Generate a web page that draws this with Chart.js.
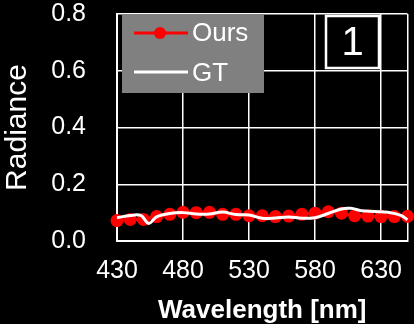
<!DOCTYPE html>
<html>
<head>
<meta charset="utf-8">
<script src="https://cdn.jsdelivr.net/npm/chart.js@4/dist/chart.umd.min.js"></script>
<style>
  html, body { margin: 0; padding: 0; background: #000; }
  #wrap { width: 414px; height: 324px; }
</style>
</head>
<body>
<div id="wrap"><canvas id="canvas" width="414" height="324"></canvas></div>
<script>
// data
const wavelengths = [430, 440, 450, 460, 470, 480, 490, 500, 510, 520, 530, 540,
                     550, 560, 570, 580, 590, 600, 610, 620, 630, 640, 650];
const oursValues = [0.072, 0.076, 0.076, 0.086, 0.094, 0.101, 0.100, 0.101, 0.094, 0.094, 0.089, 0.089,
                    0.086, 0.088, 0.094, 0.098, 0.103, 0.098, 0.089, 0.088, 0.086, 0.086, 0.087];
const gtWavelengths = [430, 440, 448, 454, 460, 470, 480, 490, 500, 510, 520, 530, 540,
                       550, 560, 570, 580, 590, 600, 607, 615, 625, 635, 645, 650];
const gtValues = [0.082, 0.090, 0.090, 0.062, 0.085, 0.097, 0.100, 0.095, 0.095, 0.102, 0.093, 0.092, 0.080,
                  0.081, 0.085, 0.080, 0.082, 0.097, 0.113, 0.115, 0.107, 0.104, 0.101, 0.090, 0.075];
const xTicks = [430, 480, 530, 580, 630, 650];
const yTicks = [0, 0.2, 0.4, 0.6, 0.8];
const seriesNames = ["Ours", "GT"];
const panelLabel = "1";

const FONT = "'Liberation Sans', Arial, sans-serif";

const blackBg = {
    id: "blackBg",
    beforeDraw(chart) {
        const ctx = chart.ctx;
        ctx.save();
        ctx.fillStyle = "#000";
        ctx.fillRect(0, 0, chart.width, chart.height);
        ctx.restore();
    }
};

// gray legend box and the numbered panel box, drawn over the plot
const overlay = {
    id: "overlay",
    afterDraw(chart) {
        const ctx = chart.ctx;
        const a = chart.chartArea;
        ctx.save();
        ctx.fillStyle = "#808080";
        ctx.fillRect(a.left + 5, a.top, 142, 79);

        ctx.lineCap = "butt";
        ctx.strokeStyle = "#ff0000";
        ctx.lineWidth = 3;
        ctx.beginPath();
        ctx.moveTo(a.left + 17, a.top + 19);
        ctx.lineTo(a.left + 71, a.top + 19);
        ctx.stroke();
        ctx.fillStyle = "#ff0000";
        ctx.beginPath();
        ctx.arc(a.left + 43, a.top + 19, 6, 0, Math.PI * 2);
        ctx.fill();

        ctx.strokeStyle = "#fff";
        ctx.beginPath();
        ctx.moveTo(a.left + 17, a.top + 58);
        ctx.lineTo(a.left + 71, a.top + 58);
        ctx.stroke();

        ctx.fillStyle = "#fff";
        ctx.font = "26px " + FONT;
        ctx.textBaseline = "middle";
        ctx.textAlign = "left";
        ctx.fillText(seriesNames[0], a.left + 75, a.top + 20);
        ctx.fillText(seriesNames[1], a.left + 75, a.top + 60);

        // panel number box
        ctx.fillStyle = "#000";
        ctx.fillRect(326, 16, 53, 52);
        ctx.strokeStyle = "#fff";
        ctx.lineWidth = 2.5;
        ctx.strokeRect(326, 16, 53, 52);
        ctx.fillStyle = "#fff";
        ctx.font = "40px " + FONT;
        ctx.textAlign = "center";
        ctx.fillText(panelLabel, 352.5, 44);
        ctx.restore();
    }
};

new Chart(document.getElementById("canvas"), {
    type: "line",
    data: {
        datasets: [
            {
                label: seriesNames[1],
                data: gtWavelengths.map((w, i) => ({ x: w, y: gtValues[i] })),
                borderColor: "#fff",
                borderWidth: 3,
                pointRadius: 0,
                tension: 0.35,
                order: 0,
                clip: false,
            },
            {
                label: seriesNames[0],
                data: wavelengths.map((w, i) => ({ x: w, y: oursValues[i] })),
                borderColor: "#ff0000",
                backgroundColor: "#ff0000",
                borderWidth: 3,
                pointRadius: 6.5,
                pointBorderWidth: 0,
                pointBackgroundColor: "#ff0000",
                tension: 0.3,
                order: 1,
                clip: false,
            },
        ],
    },
    options: {
        responsive: false,
        animation: false,
        layout: { padding: { top: 14, right: 4, left: 0, bottom: 0 } },
        plugins: { legend: { display: false }, tooltip: { enabled: false } },
        scales: {
            x: {
                type: "linear",
                min: 430,
                max: 650,
                afterBuildTicks: (scale) => { scale.ticks = xTicks.map(v => ({ value: v })); },
                afterFit: (scale) => {
                    scale.height = 83;
                    scale.paddingLeft = 0;
                    scale.paddingRight = 0;
                },
                grid: { color: "#fff", lineWidth: 1.5, drawTicks: false },
                border: { color: "#fff", width: 2 },
                ticks: {
                    color: "#fff",
                    font: { family: FONT, size: 25 },
                    padding: 15,
                    maxRotation: 0,
                    callback: (v) => (v === 650 ? "" : v),
                },
                title: {
                    display: true,
                    text: "Wavelength [nm]",
                    color: "#fff",
                    font: { family: FONT, size: 26, weight: "bold", lineHeight: 1 },
                    padding: { top: 0, bottom: 0 },
                },
            },
            y: {
                min: 0,
                max: 0.8,
                afterBuildTicks: (scale) => { scale.ticks = yTicks.map(v => ({ value: v })); },
                afterFit: (scale) => {
                    scale.width = 117;
                    scale.paddingTop = 0;
                    scale.paddingBottom = 0;
                },
                grid: { color: "#fff", lineWidth: 1.5, drawTicks: false },
                border: { color: "#fff", width: 2 },
                ticks: {
                    color: "#fff",
                    font: { family: FONT, size: 25 },
                    padding: 31,
                    callback: (v) => v.toFixed(1),
                },
                title: {
                    display: true,
                    text: "Radiance",
                    color: "#fff",
                    font: { family: FONT, size: 30 },
                    padding: { top: 0, bottom: 0 },
                },
            },
        },
    },
    plugins: [blackBg, overlay],
});
</script>
</body>
</html>
